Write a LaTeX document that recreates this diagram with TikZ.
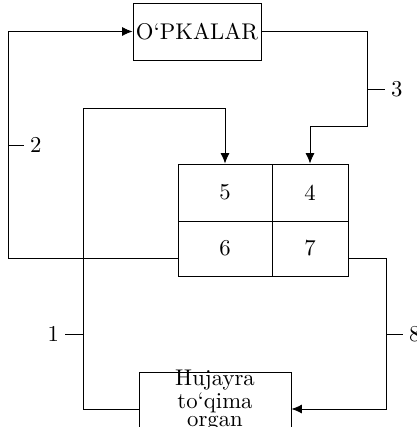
\documentclass[tikz,border=0pt]{standalone}
\usetikzlibrary{arrows.meta,calc}
\begin{document}
\begin{tikzpicture}[x=0.4405pt,y=-0.4405pt,
  box/.style={draw, inner sep=0pt},
  arr/.style={-{Latex[length=4.6pt,width=4pt]}},
  lab/.style={inner sep=2.5pt}]
\clip (0,0) rectangle (417,427);
\node[box, minimum width=56.4pt, minimum height=25.1pt] (lung) at (197,31.5) {O`PKALAR};
\node[box, minimum width=41.4pt, minimum height=25.1pt] (c5) at (225,192.5) {5};
\node[box, minimum width=33.5pt, minimum height=25.1pt] (c4) at (310,192.5) {4};
\node[box, minimum width=41.4pt, minimum height=24.2pt] (c6) at (225,248.5) {6};
\node[box, minimum width=33.5pt, minimum height=24.2pt] (c7) at (310,248.5) {7};
\node[box, minimum width=67pt, minimum height=32.6pt] (org) at (215,409) {};
\node[align=center, font=\fontsize{10}{7.8}\selectfont, inner sep=0pt] (orgtext) at (215,400.5) {Hujayra\\to`qima\\organ};
\draw[arr] ($(c6.west)+(0,9.5)$) -| (8,31.5) -- (lung.west);
\draw[arr] (lung.east) -| (367,126) -| (c4.north);
\draw[arr] (org.west) -| (83,108) -| (c5.north);
\draw[arr] ($(c7.east)+(0,9.5)$) -| (386,409) -- (org.east);
\draw (8,145) -- (24,145) node[lab, anchor=west] (l2) {2};
\draw (367,89) -- (385,89) node[lab, anchor=west] (l3) {3};
\draw (83,334) -- (65,334) node[lab, anchor=east] (l1) {1};
\draw (386,334) -- (403,334) node[lab, anchor=west] (l8) {8};
\end{tikzpicture}
\end{document}
